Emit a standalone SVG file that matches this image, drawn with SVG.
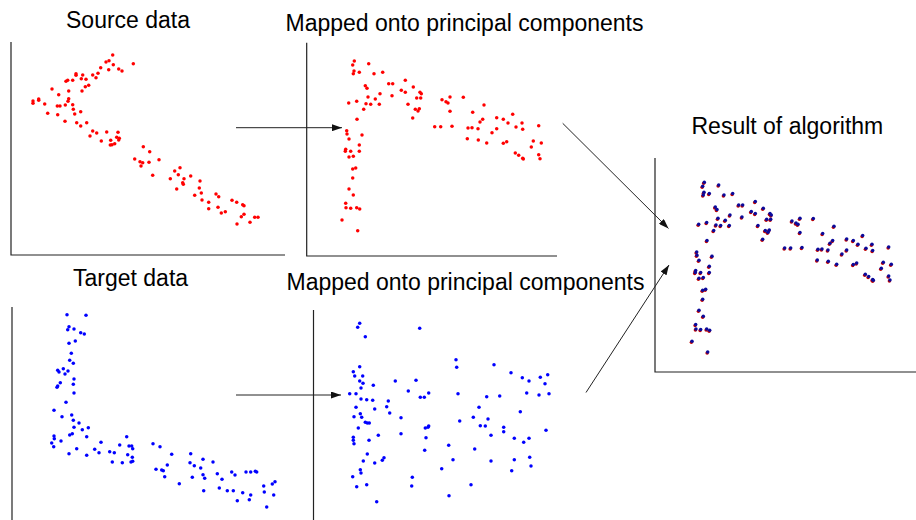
<svg xmlns="http://www.w3.org/2000/svg" xmlns:xlink="http://www.w3.org/1999/xlink" width="916" height="520" viewBox="0 0 916 520">
<style>
text{font-family:"Liberation Sans",Arial,sans-serif;font-size:23px;fill:#000}
.ax{stroke:#222;stroke-width:1.2;fill:none}
.arr{stroke:#222;stroke-width:1;fill:none;marker-end:url(#ah)}
.red circle{fill:#f00}
.blue circle{fill:#00f}
circle{r:1.75px}
</style>
<defs>
<marker id="ah" viewBox="0 0 10 7" refX="10" refY="3.5" markerWidth="10" markerHeight="7" markerUnits="userSpaceOnUse" orient="auto">
<path d="M0,0L10,3.5L0,7z" fill="#111"/>
</marker>
<g id="pcs">
<circle cx="354.3" cy="61" r="1.6"/><circle cx="352.7" cy="65" r="1.6"/><circle cx="368.7" cy="63.7" r="1.6"/><circle cx="354" cy="71" r="1.6"/><circle cx="353.3" cy="73.7" r="1.6"/><circle cx="359.3" cy="72.3" r="1.6"/><circle cx="374" cy="73.7" r="1.6"/><circle cx="382.7" cy="72.3" r="1.6"/><circle cx="388.7" cy="83.7" r="1.6"/><circle cx="392.7" cy="83.7" r="1.6"/><circle cx="405.3" cy="80.3" r="1.6"/><circle cx="365.3" cy="85.7" r="1.6"/><circle cx="367" cy="88.3" r="1.6"/><circle cx="413.3" cy="87" r="1.6"/><circle cx="401.3" cy="90.3" r="1.6"/><circle cx="405.3" cy="92.3" r="1.6"/><circle cx="420" cy="92.3" r="1.6"/><circle cx="421.3" cy="93.7" r="1.6"/><circle cx="380" cy="93.7" r="1.6"/><circle cx="368" cy="97" r="1.6"/><circle cx="375.3" cy="99" r="1.6"/><circle cx="392" cy="95.7" r="1.6"/><circle cx="416.7" cy="98" r="1.6"/><circle cx="420.7" cy="98" r="1.6"/><circle cx="356.7" cy="101.3" r="1.6"/><circle cx="348.7" cy="103" r="1.6"/><circle cx="366" cy="103.7" r="1.6"/><circle cx="370.7" cy="104.3" r="1.6"/><circle cx="379.3" cy="104.3" r="1.6"/><circle cx="408" cy="104.3" r="1.6"/><circle cx="363.7" cy="109.3" r="1.6"/><circle cx="415.3" cy="109.3" r="1.6"/><circle cx="419.3" cy="108.7" r="1.6"/><circle cx="418" cy="111" r="1.6"/><circle cx="412.7" cy="118" r="1.6"/><circle cx="357" cy="119.3" r="1.6"/><circle cx="442" cy="99.7" r="1.6"/><circle cx="450" cy="97" r="1.6"/><circle cx="446" cy="101.7" r="1.6"/><circle cx="448" cy="103" r="1.6"/><circle cx="463.3" cy="97.3" r="1.6"/><circle cx="484" cy="105" r="1.6"/><circle cx="450" cy="111.3" r="1.6"/><circle cx="472.7" cy="112.3" r="1.6"/><circle cx="512.7" cy="114.3" r="1.6"/><circle cx="496.7" cy="117.7" r="1.6"/><circle cx="503.3" cy="119.3" r="1.6"/><circle cx="482.7" cy="119.3" r="1.6"/><circle cx="480" cy="122" r="1.6"/><circle cx="508" cy="123" r="1.6"/><circle cx="522" cy="123" r="1.6"/><circle cx="538.7" cy="125.7" r="1.6"/><circle cx="434.7" cy="126.7" r="1.6"/><circle cx="440.7" cy="126.7" r="1.6"/><circle cx="452" cy="126.3" r="1.6"/><circle cx="468" cy="128" r="1.6"/><circle cx="472" cy="127.7" r="1.6"/><circle cx="478" cy="128.7" r="1.6"/><circle cx="496.7" cy="128.7" r="1.6"/><circle cx="516" cy="127" r="1.6"/><circle cx="522.7" cy="129.3" r="1.6"/><circle cx="492" cy="132.7" r="1.6"/><circle cx="346.7" cy="130.7" r="1.6"/><circle cx="347" cy="134" r="1.6"/><circle cx="362" cy="135" r="1.6"/><circle cx="349" cy="139" r="1.6"/><circle cx="467.3" cy="138.7" r="1.6"/><circle cx="478.3" cy="140" r="1.6"/><circle cx="486.7" cy="143" r="1.6"/><circle cx="503.3" cy="143.3" r="1.6"/><circle cx="506.7" cy="141.7" r="1.6"/><circle cx="533.3" cy="141" r="1.6"/><circle cx="541.3" cy="143" r="1.6"/><circle cx="531.3" cy="147" r="1.6"/><circle cx="359.3" cy="145" r="1.6"/><circle cx="345.7" cy="149.3" r="1.6"/><circle cx="345.3" cy="151.3" r="1.6"/><circle cx="350.7" cy="151.3" r="1.6"/><circle cx="359.3" cy="151.3" r="1.6"/><circle cx="349" cy="157" r="1.6"/><circle cx="353.3" cy="156.3" r="1.6"/><circle cx="515.3" cy="153" r="1.6"/><circle cx="518.7" cy="155.3" r="1.6"/><circle cx="522.7" cy="158.3" r="1.6"/><circle cx="523.3" cy="159" r="1.6"/><circle cx="538.7" cy="154.7" r="1.6"/><circle cx="540" cy="158.7" r="1.6"/><circle cx="352.7" cy="169" r="1.6"/><circle cx="355.7" cy="168" r="1.6"/><circle cx="352.7" cy="178" r="1.6"/><circle cx="349" cy="189" r="1.6"/><circle cx="353.3" cy="195" r="1.6"/><circle cx="345.7" cy="203.3" r="1.6"/><circle cx="346" cy="207.7" r="1.6"/><circle cx="350.7" cy="208.3" r="1.6"/><circle cx="356.7" cy="207.7" r="1.6"/><circle cx="359.7" cy="209" r="1.6"/><circle cx="342" cy="220" r="1.6"/><circle cx="357.7" cy="230.7" r="1.6"/>
</g>
</defs>
<rect width="916" height="520" fill="#fff"/>

<g id="source-data">
<text x="66" y="27.5">Source data</text>
<path class="ax" d="M11,42V255H285"/>
<g class="red">
<circle cx="112.7" cy="55" r="1.6"/><circle cx="109" cy="60.7" r="1.6"/><circle cx="106" cy="62" r="1.6"/><circle cx="113.3" cy="64.7" r="1.6"/><circle cx="133.3" cy="63.7" r="1.6"/><circle cx="100.7" cy="67.7" r="1.6"/><circle cx="108.7" cy="69.7" r="1.6"/><circle cx="118.7" cy="69" r="1.6"/><circle cx="122" cy="71" r="1.6"/><circle cx="98" cy="73.3" r="1.6"/><circle cx="92.7" cy="75" r="1.6"/><circle cx="96" cy="77.7" r="1.6"/><circle cx="76" cy="73.7" r="1.6"/><circle cx="76" cy="75.3" r="1.6"/><circle cx="82.7" cy="75" r="1.6"/><circle cx="81.3" cy="78.7" r="1.6"/><circle cx="86" cy="79.3" r="1.6"/><circle cx="72.7" cy="80.3" r="1.6"/><circle cx="67.7" cy="80.3" r="1.6"/><circle cx="66" cy="81.3" r="1.6"/><circle cx="88.7" cy="85.3" r="1.6"/><circle cx="85.3" cy="86.7" r="1.6"/><circle cx="82" cy="91" r="1.6"/><circle cx="68.7" cy="91" r="1.6"/><circle cx="52" cy="89" r="1.6"/><circle cx="58.7" cy="94.7" r="1.6"/><circle cx="68.7" cy="98.7" r="1.6"/><circle cx="68" cy="101.3" r="1.6"/><circle cx="38.7" cy="99" r="1.6"/><circle cx="38.7" cy="100.3" r="1.6"/><circle cx="33" cy="101" r="1.6"/><circle cx="33" cy="103.3" r="1.6"/><circle cx="44.7" cy="104" r="1.6"/><circle cx="72.7" cy="104.7" r="1.6"/><circle cx="65.3" cy="105" r="1.6"/><circle cx="57.3" cy="106" r="1.6"/><circle cx="60" cy="106" r="1.6"/><circle cx="73.3" cy="109.3" r="1.6"/><circle cx="80.7" cy="111.7" r="1.6"/><circle cx="47.7" cy="113.3" r="1.6"/><circle cx="57.7" cy="114.7" r="1.6"/><circle cx="74.7" cy="114" r="1.6"/><circle cx="65" cy="121.3" r="1.6"/><circle cx="76.7" cy="122.7" r="1.6"/><circle cx="86.7" cy="122.7" r="1.6"/><circle cx="80.7" cy="126" r="1.6"/><circle cx="92.7" cy="131" r="1.6"/><circle cx="96.7" cy="133" r="1.6"/><circle cx="106.7" cy="132" r="1.6"/><circle cx="118" cy="132.3" r="1.6"/><circle cx="90" cy="136" r="1.6"/><circle cx="116.7" cy="137.3" r="1.6"/><circle cx="119.3" cy="138.3" r="1.6"/><circle cx="118.7" cy="140" r="1.6"/><circle cx="110.7" cy="140.3" r="1.6"/><circle cx="101.3" cy="141" r="1.6"/><circle cx="114.7" cy="143.7" r="1.6"/><circle cx="112" cy="144.7" r="1.6"/><circle cx="110.3" cy="145" r="1.6"/><circle cx="143.3" cy="146.7" r="1.6"/><circle cx="149.7" cy="151.7" r="1.6"/><circle cx="134.7" cy="159" r="1.6"/><circle cx="159" cy="159.7" r="1.6"/><circle cx="140" cy="161.7" r="1.6"/><circle cx="142.7" cy="162.7" r="1.6"/><circle cx="149" cy="162.3" r="1.6"/><circle cx="141" cy="166" r="1.6"/><circle cx="152.7" cy="175.3" r="1.6"/><circle cx="180" cy="167.7" r="1.6"/><circle cx="174.7" cy="171" r="1.6"/><circle cx="178.3" cy="174.7" r="1.6"/><circle cx="190.7" cy="176" r="1.6"/><circle cx="184" cy="178.7" r="1.6"/><circle cx="170.3" cy="178.7" r="1.6"/><circle cx="200" cy="181" r="1.6"/><circle cx="182.7" cy="182.7" r="1.6"/><circle cx="183.3" cy="184.3" r="1.6"/><circle cx="199.3" cy="188" r="1.6"/><circle cx="176.7" cy="189" r="1.6"/><circle cx="201.3" cy="193" r="1.6"/><circle cx="194.7" cy="195.3" r="1.6"/><circle cx="216" cy="194" r="1.6"/><circle cx="218.7" cy="196.7" r="1.6"/><circle cx="202" cy="200" r="1.6"/><circle cx="232" cy="200.3" r="1.6"/><circle cx="236.7" cy="202.3" r="1.6"/><circle cx="208.7" cy="202.3" r="1.6"/><circle cx="242.7" cy="204.7" r="1.6"/><circle cx="244" cy="205.7" r="1.6"/><circle cx="218" cy="207.3" r="1.6"/><circle cx="208.7" cy="208.7" r="1.6"/><circle cx="225.3" cy="211.7" r="1.6"/><circle cx="221.3" cy="213" r="1.6"/><circle cx="244" cy="214.3" r="1.6"/><circle cx="241.3" cy="216.7" r="1.6"/><circle cx="254.7" cy="217.3" r="1.6"/><circle cx="258" cy="217.3" r="1.6"/><circle cx="250" cy="222.3" r="1.6"/><circle cx="237" cy="224" r="1.6"/>
</g>
</g>

<g id="source-mapped">
<text x="285.5" y="31">Mapped onto principal components</text>
<path class="ax" d="M306.7,42.7V256H557"/>
<use xlink:href="#pcs" fill="#f00"/>
</g>

<g id="target-data">
<text x="73" y="286">Target data</text>
<path class="ax" d="M12,307V520"/>
<g class="blue">
<circle cx="67" cy="314.7" r="1.6"/><circle cx="86" cy="315.3" r="1.6"/><circle cx="69" cy="326.7" r="1.6"/><circle cx="67.7" cy="329.7" r="1.6"/><circle cx="74" cy="329" r="1.6"/><circle cx="80.7" cy="332.7" r="1.6"/><circle cx="84.3" cy="334" r="1.6"/><circle cx="75.3" cy="341" r="1.6"/><circle cx="69" cy="343.3" r="1.6"/><circle cx="71.3" cy="353.3" r="1.6"/><circle cx="69.7" cy="360.3" r="1.6"/><circle cx="73.3" cy="363.3" r="1.6"/><circle cx="63.3" cy="368.7" r="1.6"/><circle cx="57.7" cy="370.3" r="1.6"/><circle cx="59" cy="372" r="1.6"/><circle cx="68" cy="371" r="1.6"/><circle cx="65" cy="374" r="1.6"/><circle cx="74" cy="379" r="1.6"/><circle cx="60.3" cy="382.7" r="1.6"/><circle cx="73.3" cy="384.3" r="1.6"/><circle cx="57.7" cy="386" r="1.6"/><circle cx="57" cy="387.3" r="1.6"/><circle cx="74" cy="393" r="1.6"/><circle cx="66" cy="402.3" r="1.6"/><circle cx="54" cy="410.3" r="1.6"/><circle cx="62" cy="416.7" r="1.6"/><circle cx="71.7" cy="415" r="1.6"/><circle cx="73.3" cy="420.3" r="1.6"/><circle cx="79" cy="423" r="1.6"/><circle cx="74" cy="427.3" r="1.6"/><circle cx="88.3" cy="427.7" r="1.6"/><circle cx="82.3" cy="429.7" r="1.6"/><circle cx="72.3" cy="433.7" r="1.6"/><circle cx="69.7" cy="435" r="1.6"/><circle cx="86.7" cy="436.7" r="1.6"/><circle cx="54" cy="436" r="1.6"/><circle cx="54.3" cy="438.7" r="1.6"/><circle cx="61" cy="441" r="1.6"/><circle cx="51.7" cy="443" r="1.6"/><circle cx="53.7" cy="446.7" r="1.6"/><circle cx="76.7" cy="448.7" r="1.6"/><circle cx="69" cy="453.7" r="1.6"/><circle cx="86.7" cy="455.3" r="1.6"/><circle cx="101" cy="442.3" r="1.6"/><circle cx="94.7" cy="449.3" r="1.6"/><circle cx="99" cy="452.7" r="1.6"/><circle cx="109.7" cy="451.7" r="1.6"/><circle cx="114.3" cy="452.7" r="1.6"/><circle cx="119.7" cy="445" r="1.6"/><circle cx="126.7" cy="436.7" r="1.6"/><circle cx="129" cy="446" r="1.6"/><circle cx="131.7" cy="446" r="1.6"/><circle cx="132.7" cy="448.7" r="1.6"/><circle cx="127.7" cy="454.7" r="1.6"/><circle cx="132.3" cy="457.3" r="1.6"/><circle cx="112.3" cy="462" r="1.6"/><circle cx="122.3" cy="462.7" r="1.6"/><circle cx="131" cy="462" r="1.6"/><circle cx="132.7" cy="461.3" r="1.6"/><circle cx="153" cy="443.7" r="1.6"/><circle cx="160" cy="446.7" r="1.6"/><circle cx="171.7" cy="454.3" r="1.6"/><circle cx="167.3" cy="465" r="1.6"/><circle cx="156" cy="469.3" r="1.6"/><circle cx="161.7" cy="470" r="1.6"/><circle cx="163.3" cy="470.7" r="1.6"/><circle cx="164.7" cy="476.7" r="1.6"/><circle cx="179.3" cy="483.7" r="1.6"/><circle cx="190.7" cy="453.7" r="1.6"/><circle cx="190" cy="462.7" r="1.6"/><circle cx="194.3" cy="465.7" r="1.6"/><circle cx="200.7" cy="468" r="1.6"/><circle cx="203" cy="459.3" r="1.6"/><circle cx="213" cy="462" r="1.6"/><circle cx="203" cy="474.7" r="1.6"/><circle cx="204.7" cy="478.3" r="1.6"/><circle cx="192.3" cy="477.3" r="1.6"/><circle cx="217.3" cy="473.7" r="1.6"/><circle cx="222" cy="479.3" r="1.6"/><circle cx="203.7" cy="490.7" r="1.6"/><circle cx="219.3" cy="488" r="1.6"/><circle cx="227.3" cy="490.7" r="1.6"/><circle cx="233.3" cy="490.7" r="1.6"/><circle cx="231.7" cy="472" r="1.6"/><circle cx="235" cy="475" r="1.6"/><circle cx="246" cy="472" r="1.6"/><circle cx="250.7" cy="472" r="1.6"/><circle cx="255.3" cy="471.3" r="1.6"/><circle cx="256.7" cy="472" r="1.6"/><circle cx="242.7" cy="492.7" r="1.6"/><circle cx="237.3" cy="500.7" r="1.6"/><circle cx="250.7" cy="495" r="1.6"/><circle cx="249.3" cy="499.7" r="1.6"/><circle cx="263.7" cy="486" r="1.6"/><circle cx="264.3" cy="492" r="1.6"/><circle cx="272.3" cy="484" r="1.6"/><circle cx="275" cy="481.7" r="1.6"/><circle cx="273.7" cy="495" r="1.6"/><circle cx="266.7" cy="507" r="1.6"/>
</g>
</g>

<g id="target-mapped">
<text x="286.5" y="289.5">Mapped onto principal components</text>
<path class="ax" d="M313.5,310V520"/>
<g class="blue">
<circle cx="359.7" cy="323.3" r="1.6"/><circle cx="357.7" cy="327.3" r="1.6"/><circle cx="365.3" cy="336.7" r="1.6"/><circle cx="419.7" cy="328.3" r="1.6"/><circle cx="456" cy="359.7" r="1.6"/><circle cx="456.7" cy="367.3" r="1.6"/><circle cx="494" cy="364.7" r="1.6"/><circle cx="511" cy="372.7" r="1.6"/><circle cx="522.3" cy="377.7" r="1.6"/><circle cx="529" cy="381" r="1.6"/><circle cx="540.3" cy="377.3" r="1.6"/><circle cx="547.7" cy="374.7" r="1.6"/><circle cx="545" cy="383.7" r="1.6"/><circle cx="526.7" cy="393" r="1.6"/><circle cx="539" cy="395" r="1.6"/><circle cx="549" cy="393.7" r="1.6"/><circle cx="359.7" cy="366.7" r="1.6"/><circle cx="353.3" cy="371.7" r="1.6"/><circle cx="354.7" cy="376" r="1.6"/><circle cx="362.7" cy="376" r="1.6"/><circle cx="359.7" cy="381" r="1.6"/><circle cx="363" cy="383.3" r="1.6"/><circle cx="361" cy="388" r="1.6"/><circle cx="373.3" cy="385.3" r="1.6"/><circle cx="395.3" cy="381" r="1.6"/><circle cx="416" cy="380.3" r="1.6"/><circle cx="408.3" cy="391" r="1.6"/><circle cx="428.7" cy="393" r="1.6"/><circle cx="420.3" cy="397.3" r="1.6"/><circle cx="424.3" cy="397.3" r="1.6"/><circle cx="458" cy="393.7" r="1.6"/><circle cx="486.7" cy="396.7" r="1.6"/><circle cx="499.7" cy="396" r="1.6"/><circle cx="349.7" cy="393.7" r="1.6"/><circle cx="356" cy="393.7" r="1.6"/><circle cx="361" cy="399" r="1.6"/><circle cx="366.7" cy="399.7" r="1.6"/><circle cx="372.7" cy="400.3" r="1.6"/><circle cx="388.3" cy="401" r="1.6"/><circle cx="356" cy="407.3" r="1.6"/><circle cx="374.7" cy="409" r="1.6"/><circle cx="386.7" cy="406.7" r="1.6"/><circle cx="389.7" cy="413" r="1.6"/><circle cx="360.3" cy="413.7" r="1.6"/><circle cx="354" cy="416.7" r="1.6"/><circle cx="361.7" cy="417.3" r="1.6"/><circle cx="401" cy="417.7" r="1.6"/><circle cx="479" cy="407.3" r="1.6"/><circle cx="520.3" cy="411.7" r="1.6"/><circle cx="473.3" cy="417.3" r="1.6"/><circle cx="488" cy="419" r="1.6"/><circle cx="459.7" cy="421" r="1.6"/><circle cx="365.3" cy="422.3" r="1.6"/><circle cx="367.3" cy="423" r="1.6"/><circle cx="369.3" cy="423" r="1.6"/><circle cx="358.3" cy="428" r="1.6"/><circle cx="480.3" cy="425.7" r="1.6"/><circle cx="485.3" cy="426" r="1.6"/><circle cx="503.7" cy="427.3" r="1.6"/><circle cx="503.7" cy="431.7" r="1.6"/><circle cx="425.3" cy="428" r="1.6"/><circle cx="428" cy="427.3" r="1.6"/><circle cx="428.7" cy="426" r="1.6"/><circle cx="546" cy="430.3" r="1.6"/><circle cx="401" cy="433.7" r="1.6"/><circle cx="378.3" cy="435.3" r="1.6"/><circle cx="353.3" cy="437.3" r="1.6"/><circle cx="353.3" cy="440.3" r="1.6"/><circle cx="354" cy="443.7" r="1.6"/><circle cx="369" cy="440.3" r="1.6"/><circle cx="426" cy="437.7" r="1.6"/><circle cx="491" cy="435.3" r="1.6"/><circle cx="514.3" cy="438.3" r="1.6"/><circle cx="529" cy="438.3" r="1.6"/><circle cx="523.7" cy="442.3" r="1.6"/><circle cx="448.7" cy="445.3" r="1.6"/><circle cx="474.7" cy="449" r="1.6"/><circle cx="424.7" cy="450.3" r="1.6"/><circle cx="367.3" cy="454" r="1.6"/><circle cx="363.3" cy="461" r="1.6"/><circle cx="384" cy="457.7" r="1.6"/><circle cx="382.3" cy="460.3" r="1.6"/><circle cx="374.7" cy="463" r="1.6"/><circle cx="453" cy="459.7" r="1.6"/><circle cx="491" cy="461" r="1.6"/><circle cx="514.3" cy="459.7" r="1.6"/><circle cx="529.7" cy="457.3" r="1.6"/><circle cx="531" cy="466" r="1.6"/><circle cx="511.7" cy="470.7" r="1.6"/><circle cx="441.7" cy="468.7" r="1.6"/><circle cx="360.3" cy="469.7" r="1.6"/><circle cx="361" cy="473" r="1.6"/><circle cx="352.7" cy="476.7" r="1.6"/><circle cx="356.7" cy="486.7" r="1.6"/><circle cx="366.7" cy="484.7" r="1.6"/><circle cx="412.3" cy="477.3" r="1.6"/><circle cx="411.7" cy="486" r="1.6"/><circle cx="471" cy="484.7" r="1.6"/><circle cx="449" cy="495.7" r="1.6"/><circle cx="376.7" cy="501.7" r="1.6"/>
</g>
</g>

<g id="result">
<text x="691.5" y="133.5">Result of algorithm</text>
<path class="ax" d="M655,158V372H916"/>
<use xlink:href="#pcs" transform="translate(349.4,122.3)" fill="#c00000"/>
<use xlink:href="#pcs" transform="translate(350,121.3)" fill="#0a0a9c"/>
</g>

<g id="connectors">
<path class="arr" d="M236,127.7H342"/>
<path class="arr" d="M236,395H341"/>
<path class="arr" d="M562.7,123.3L668.5,228.5"/>
<path class="arr" d="M586,392.5L669,265"/>
</g>
</svg>
